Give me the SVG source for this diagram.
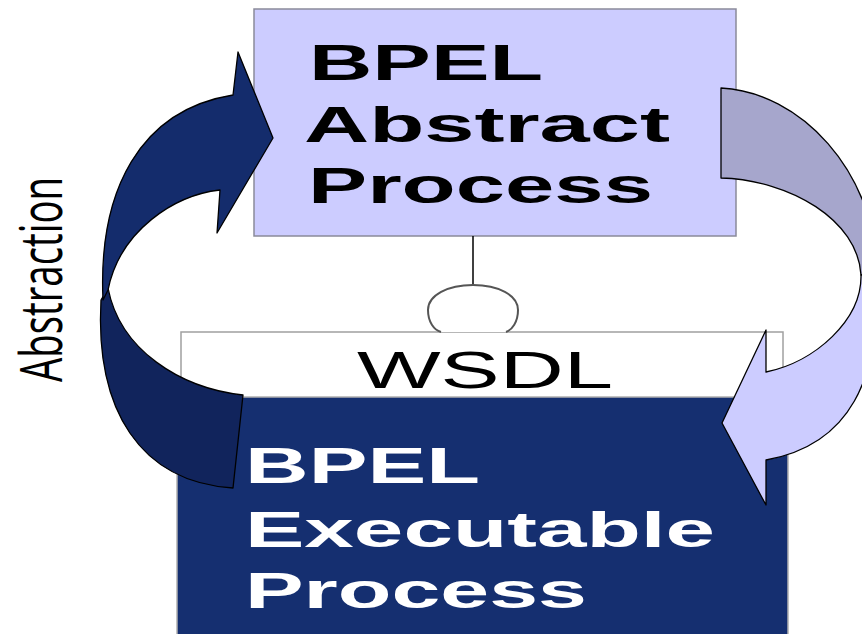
<svg xmlns="http://www.w3.org/2000/svg" width="862" height="634" viewBox="0 0 862 634">
  <style>
    .box-abs { fill: #ccccff; stroke: #8a8a9a; stroke-width: 1.5; }
    .box-wsdl { fill: #ffffff; stroke: #a0a0a0; stroke-width: 1.5; }
    .box-exe { fill: #152f70; stroke: #b0b0b0; stroke-width: 1.5; }
    .big { font-family: "Liberation Sans", Arial, sans-serif; font-weight: bold; font-size: 50px; }
    .dark { fill: #000000; }
    .light { fill: #ffffff; }
    .wsdl { font-family: "Liberation Sans", Arial, sans-serif; font-size: 52px; fill: #000000; }
    .side { font-family: "Open Sans", "Liberation Sans", sans-serif; font-size: 58px; fill: #000000; }
    .outline { stroke: #000000; stroke-width: 1.3; stroke-linejoin: round; }
    .lolli { fill: #ffffff; stroke: #555555; stroke-width: 2; }
  </style>

  <!-- abstract process -->
  <g id="abstract-process">
    <rect class="box-abs" x="254" y="9" width="482" height="227"/>
    <text class="big dark" x="309" y="80" textLength="234" lengthAdjust="spacingAndGlyphs">BPEL</text>
    <text class="big dark" x="304" y="142" textLength="366" lengthAdjust="spacingAndGlyphs">Abstract</text>
    <text class="big dark" x="308" y="203" textLength="345" lengthAdjust="spacingAndGlyphs">Process</text>
  </g>

  <!-- WSDL interface band -->
  <g id="wsdl">
    <rect class="box-wsdl" x="181" y="332" width="602" height="70"/>
    <text class="wsdl" x="357" y="388" textLength="256" lengthAdjust="spacingAndGlyphs">WSDL</text>
  </g>

  <!-- executable process -->
  <g id="executable-process">
    <rect class="box-exe" x="177" y="397" width="611" height="245"/>
    <text class="big light" x="245" y="483" textLength="235" lengthAdjust="spacingAndGlyphs">BPEL</text>
    <text class="big light" x="245" y="547" textLength="470" lengthAdjust="spacingAndGlyphs">Executable</text>
    <text class="big light" x="245" y="608" textLength="342" lengthAdjust="spacingAndGlyphs">Process</text>
  </g>

  <!-- side label -->
  <g id="abstraction-label">
    <text class="side" transform="translate(62,382) rotate(-90)" x="0" y="0" textLength="205" lengthAdjust="spacingAndGlyphs">Abstraction</text>
  </g>

  <g id="connectors">
    <!-- interface lollipop -->
    <line x1="473" y1="236" x2="473" y2="285" stroke="#000000" stroke-width="1.5"/>
    <path class="lolli" d="M 441 332 C 434 330, 428 322, 428 310 C 428 295, 448 285, 473 285 C 498 285, 518 295, 518 310 C 518 322, 512 330, 506 332"/>

    <!-- abstraction arrow: lower band -->
    <path class="outline" fill="#11245c" d="M 243 395 C 180 388, 120 350, 108 288 L 101 300 C 95 410, 140 482, 233 488 Z"/>
    <!-- abstraction arrow: upper band with head -->
    <path class="outline" fill="#142c6c" d="M 233 95 L 238 52 L 273 138 L 217 233 L 220 190 C 175 195, 120 230, 108 290 L 103 300 C 98 190, 140 110, 233 95 Z"/>

    <!-- refinement arrow: back band -->
    <path class="outline" fill="#a6a6cc" d="M 721 88 C 800 92, 875 170, 878 275 L 861 275 C 858 220, 790 180, 721 178 Z"/>
    <!-- refinement arrow: front band with head -->
    <path class="outline" fill="#ccccff" d="M 861 275 C 862 320, 815 362, 766 372 L 766 330 L 722 423 L 766 505 L 766 460 C 850 445, 880 380, 878 275 Z"/>
  </g>
</svg>
